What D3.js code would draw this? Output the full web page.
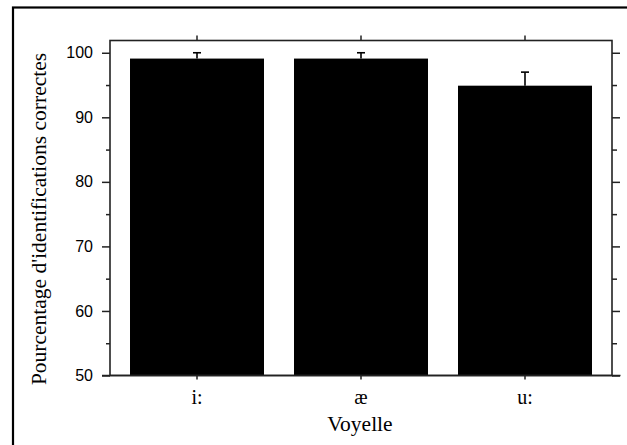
<!DOCTYPE html>
<html>
<head>
<meta charset="utf-8">
<script src="https://cdn.jsdelivr.net/npm/d3@7"></script>
<style>
  html, body { margin: 0; padding: 0; background: #fff; }
  svg { display: block; }
</style>
</head>
<body>
<svg id="chart" width="627" height="445"></svg>
<script>
// ---- data ----
const categories = ["i:", "æ", "u:"];
const values = [99.1, 99.1, 94.9];
const errors = [0.9, 0.9, 2.1];
const yTicks = [50, 60, 70, 80, 90, 100];
const yMinorTicks = [55, 65, 75, 85, 95];
const xTitle = "Voyelle";
const yTitle = "Pourcentage d'identifications correctes";

// ---- layout ----
const W = 627, H = 445;
const plot = { left: 110, right: 612, top: 40.5, bottom: 375.5 };
const svg = d3.select("#chart");

const x = d3.scaleBand()
  .domain(categories)
  .range([plot.left, plot.right])
  .paddingInner(0.183)
  .paddingOuter(0.122);

const y = d3.scaleLinear()
  .domain([50, 101.9])
  .range([plot.bottom, plot.top]);

// outer frame
svg.append("rect")
  .attr("x", 13).attr("y", 7.5)
  .attr("width", W + 20).attr("height", H + 20)
  .attr("fill", "none").attr("stroke", "#000").attr("stroke-width", 2.2);

// bars
svg.append("g").selectAll("rect")
  .data(categories)
  .join("rect")
  .attr("x", d => x(d))
  .attr("y", (d, i) => y(values[i]))
  .attr("width", x.bandwidth())
  .attr("height", (d, i) => y(50) - y(values[i]))
  .attr("fill", "#000");

// error bars (upper)
const eg = svg.append("g").attr("stroke", "#000").attr("stroke-width", 1.6);
categories.forEach((c, i) => {
  const cx = x(c) + x.bandwidth() / 2;
  eg.append("line")
    .attr("x1", cx).attr("x2", cx)
    .attr("y1", y(values[i])).attr("y2", y(values[i] + errors[i]));
  eg.append("line")
    .attr("x1", cx - 4).attr("x2", cx + 4)
    .attr("y1", y(values[i] + errors[i])).attr("y2", y(values[i] + errors[i]));
});

const axisColor = "#222";
const tickFont = "Liberation Sans Narrow, Arial Narrow, Liberation Sans, Arial, sans-serif";
const serif = "Times New Roman, Liberation Serif, DejaVu Serif, serif";

function styleAxis(g) {
  g.selectAll("path").remove();
  g.selectAll("line").attr("stroke", axisColor).attr("stroke-width", 1.5);
}

// plot box
svg.append("rect")
  .attr("x", plot.left).attr("y", plot.top)
  .attr("width", plot.right - plot.left).attr("height", plot.bottom - plot.top)
  .attr("fill", "none").attr("stroke", axisColor).attr("stroke-width", 1.6);

// bottom axis line extending across tick areas
svg.append("line")
  .attr("x1", plot.left - 8).attr("x2", plot.right + 8.5)
  .attr("y1", plot.bottom).attr("y2", plot.bottom)
  .attr("stroke", axisColor).attr("stroke-width", 1.6);

// left axis
const gl = svg.append("g").attr("transform", `translate(${plot.left},0)`)
  .call(d3.axisLeft(y).tickValues(yTicks).tickSize(8).tickPadding(9).tickFormat(d3.format("d")));
styleAxis(gl);
gl.selectAll("text")
  .style("font-family", tickFont).style("font-size", "16px").attr("fill", "#000");
const glm = svg.append("g").attr("transform", `translate(${plot.left},0)`)
  .call(d3.axisLeft(y).tickValues(yMinorTicks).tickSize(4).tickFormat(""));
styleAxis(glm);

// right axis
const gr = svg.append("g").attr("transform", `translate(${plot.right},0)`)
  .call(d3.axisRight(y).tickValues(yTicks).tickSize(8).tickFormat(""));
styleAxis(gr);
const grm = svg.append("g").attr("transform", `translate(${plot.right},0)`)
  .call(d3.axisRight(y).tickValues(yMinorTicks).tickSize(5).tickFormat(""));
styleAxis(grm);

// top axis
const gt = svg.append("g").attr("transform", `translate(0,${plot.top})`)
  .call(d3.axisTop(x).tickSize(5).tickFormat(""));
styleAxis(gt);

// bottom axis
const gb = svg.append("g").attr("transform", `translate(0,${plot.bottom})`)
  .call(d3.axisBottom(x).tickSize(4).tickPadding(10));
styleAxis(gb);
gb.selectAll("text")
  .style("font-family", serif).style("font-size", "20px").attr("fill", "#000");

// x title
svg.append("text")
  .attr("x", (plot.left + plot.right) / 2 - 1).attr("y", 431)
  .attr("text-anchor", "middle")
  .style("font-family", serif).style("font-size", "21.5px").attr("fill", "#000")
  .text(xTitle);

// y title
svg.append("text")
  .attr("transform", `translate(46,${(plot.top + plot.bottom) / 2 + 11}) rotate(-90)`)
  .attr("text-anchor", "middle")
  .style("font-family", serif).style("font-size", "21.5px").attr("fill", "#000")
  .text(yTitle);
</script>
</body>
</html>
